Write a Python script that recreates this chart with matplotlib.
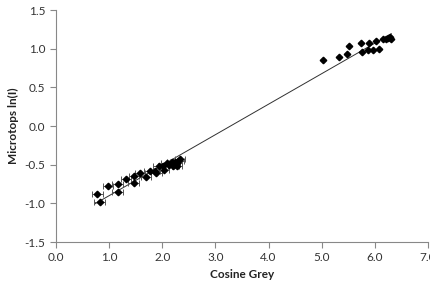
import numpy as np
import matplotlib
matplotlib.use("Agg")
import matplotlib.pyplot as plt
from matplotlib.ticker import FormatStrFormatter, MultipleLocator

plt.rcParams['font.family'] = ['Lato', 'DejaVu Sans']

# Low cluster (with horizontal error bars)
low_x = [0.78, 0.82, 0.98, 1.16, 1.16, 1.32, 1.47, 1.46, 1.58, 1.69, 1.76, 1.86,
         1.89, 1.93, 2.03, 2.01, 2.08, 2.13, 2.18, 2.21, 2.24, 2.27, 2.30, 2.33, 2.28]
low_y = [-0.88, -0.98, -0.78, -0.75, -0.85, -0.69, -0.64, -0.74, -0.61, -0.66, -0.58, -0.58,
         -0.61, -0.52, -0.57, -0.52, -0.48, -0.50, -0.47, -0.52, -0.46, -0.48, -0.45, -0.43, -0.52]
low_xerr = [0.10] * len(low_x)

# High cluster
high_x = [5.03, 5.32, 5.48, 5.52, 5.73, 5.76, 5.88, 5.89, 5.97, 6.03, 6.07, 6.16, 6.21, 6.25, 6.28, 6.31]
high_y = [0.86, 0.89, 0.93, 1.04, 1.07, 0.96, 0.98, 1.07, 0.99, 1.10, 1.00, 1.12, 1.13, 1.14, 1.15, 1.13]

x_all = np.array(low_x + high_x)
y_all = np.array(low_y + high_y)

fig = plt.figure(figsize=(4.31, 2.97), dpi=100)
ax = fig.add_axes([0.130, 0.185, 0.863, 0.781])

slope, intercept = np.polyfit(x_all, y_all, 1)
xl = np.array([x_all.min() - 0.05, x_all.max()])
ax.plot(xl, slope * xl + intercept, color='#303030', lw=0.7, zorder=1)

ax.errorbar(low_x, low_y, xerr=low_xerr, fmt='D', color='black', ms=3.3,
            ecolor='#555555', elinewidth=0.7, capsize=2, capthick=0.7, zorder=3)
ax.plot(high_x, high_y, 'D', color='black', ms=3.3, zorder=3)

ax.set_xlim(0, 7)
ax.set_ylim(-1.5, 1.5)
ax.xaxis.set_major_locator(MultipleLocator(1.0))
ax.yaxis.set_major_locator(MultipleLocator(0.5))
ax.xaxis.set_major_formatter(FormatStrFormatter('%.1f'))
ax.yaxis.set_major_formatter(FormatStrFormatter('%.1f'))

for s in ['top', 'right']:
    ax.spines[s].set_visible(False)
for s in ['left', 'bottom']:
    ax.spines[s].set_color('#888888')
    ax.spines[s].set_linewidth(0.8)
ax.tick_params(axis='both', colors='#888888', labelcolor='#333333', labelsize=8.5,
               direction='out', length=4, width=0.8)

ax.set_xlabel('Cosine Grey', fontsize=8.5, fontweight='bold', color='#222222', labelpad=4)
ax.set_ylabel('Microtops ln(I)', fontsize=8.5, fontweight='bold', color='#222222', labelpad=4)

fig.savefig('out.png', dpi=100)
